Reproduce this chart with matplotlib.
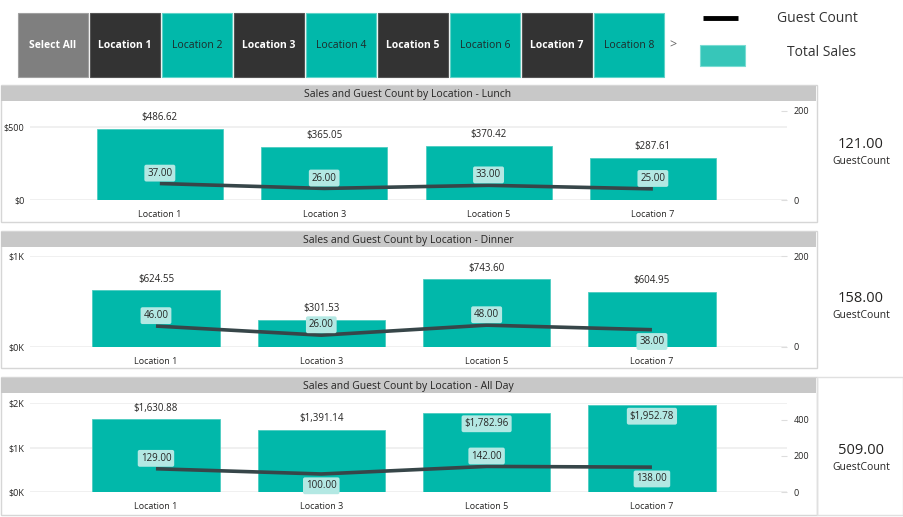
import matplotlib
matplotlib.use('Agg')
import matplotlib.pyplot as plt
from matplotlib.patches import Rectangle
import numpy as np

plt.rcParams['font.family'] = ['Open Sans', 'DejaVu Sans']

W, H = 904, 517

# ---------------- data ----------------
locations = ['Location 1', 'Location 3', 'Location 5', 'Location 7']
lunch_sales = [486.62, 365.05, 370.42, 287.61]
lunch_guests = [37, 26, 33, 25]
dinner_sales = [624.55, 301.53, 743.60, 604.95]
dinner_guests = [46, 26, 48, 38]
allday_sales = [1630.88, 1391.14, 1782.96, 1952.78]
allday_guests = [129, 100, 142, 138]
panel_titles = ['Sales and Guest Count by Location - Lunch',
                'Sales and Guest Count by Location - Dinner',
                'Sales and Guest Count by Location - All Day']
card_totals = [121.00, 158.00, 509.00]
card_label = 'GuestCount'
slicer_items = ['Select All', 'Location 1', 'Location 2', 'Location 3', 'Location 4',
                'Location 5', 'Location 6', 'Location 7', 'Location 8']
legend_items = ['Guest Count', 'Total Sales']

TEAL = '#01B8AA'
LINE = '#374649'
TXT = '#252423'
LBL_BG = '#B3E8E3'

fig = plt.figure(figsize=(W / 100, H / 100), dpi=100)
fig.patch.set_facecolor('white')


def frect(x0, y0, x1, y1):
    return [x0 / W, 1 - y1 / H, (x1 - x0) / W, (y1 - y0) / H]


bg = fig.add_axes([0, 0, 1, 1])
bg.set_xlim(0, W)
bg.set_ylim(H, 0)
bg.axis('off')

# ---------------- slicer ----------------
for i, name in enumerate(slicer_items):
    x0 = 18 + 72 * i
    if i == 0:
        fc, ec, tc, fw = '#7F7F7F', '#A0A0A0', 'white', 'bold'
    elif i % 2 == 1:
        fc, ec, tc, fw = '#333333', '#555555', 'white', 'bold'
    else:
        fc, ec, tc, fw = TEAL, '#5FD3C8', '#1E2A2A', 'normal'
    bg.add_patch(Rectangle((x0, 13), 70, 64, facecolor=fc, edgecolor=ec, lw=0.8))
    bg.text(x0 + 35, 46, name, ha='center', va='center', color=tc,
            fontsize=7.5, fontweight=fw)
bg.text(673, 45, '>', ha='center', va='center', color='#666666', fontsize=9)

# ---------------- legend ----------------
bg.plot([703, 738], [18, 18], color='black', lw=3.5, solid_capstyle='butt')
bg.text(777, 18, legend_items[0], ha='left', va='center', fontsize=10, color='#333333')
bg.add_patch(Rectangle((700, 45), 45, 21, facecolor='#37C6B9', edgecolor='#7ADCD3', lw=0.8))
bg.text(787, 53, legend_items[1], ha='left', va='center', fontsize=10, color='#333333')

# ---------------- panels ----------------
panels = [
    dict(top=85, bot=222, ytop=111, ybot=200, xlim=(-0.79, 3.816), bw=0.767,
         lmax=609.6, lticks=[0, 500], llabels=['$0', '$500'],
         rmax=200, rticks=[0, 200], card_y=145,
         sales_inside=[False, False, False, False],
         guest_below=[False, False, False, False]),
    dict(top=231, bot=368, ytop=256, ybot=347, xlim=(-0.762, 3.817), bw=0.77,
         lmax=1000, lticks=[0, 1000], llabels=['$0K', '$1K'],
         rmax=200, rticks=[0, 200], card_y=298,
         sales_inside=[False, False, False, False],
         guest_below=[False, False, False, True]),
    dict(top=377, bot=515, ytop=403, ybot=492, xlim=(-0.762, 3.817), bw=0.77,
         lmax=2000, lticks=[0, 1000, 2000], llabels=['$0K', '$1K', '$2K'],
         rmax=494, rticks=[0, 200, 400], card_y=450,
         sales_inside=[False, False, True, True],
         guest_below=[False, True, False, True]),
]
sales_sets = [lunch_sales, dinner_sales, allday_sales]
guest_sets = [lunch_guests, dinner_guests, allday_guests]

for k, cfg in enumerate(panels):
    # frame and title bar
    bg.add_patch(Rectangle((0.5, cfg['top']), 816.5, cfg['bot'] - cfg['top'],
                           facecolor='white', edgecolor='#D6D6D6', lw=1))
    bg.add_patch(Rectangle((1, cfg['top'] + 1), 815.5, 15, facecolor='#C8C8C8',
                           edgecolor='none'))
    bg.text(408, cfg['top'] + 9, panel_titles[k], ha='center', va='center',
            fontsize=7.5, color=TXT)
    # card
    bg.text(861, cfg['card_y'], f"{card_totals[k]:.2f}", ha='center', va='center',
            fontsize=10.5, color=TXT)
    bg.text(861, cfg['card_y'] + 17, card_label, ha='center', va='center',
            fontsize=7.5, color=TXT)

    sales = sales_sets[k]
    guests = guest_sets[k]
    x = np.arange(len(locations))

    ax = fig.add_axes(frect(30, cfg['ytop'], 787, cfg['ybot']))
    ax.set_facecolor('none')
    ax.bar(x, sales, width=cfg['bw'], color=TEAL, edgecolor='#4CCCC0', lw=0.6, zorder=2)
    ax.set_xlim(*cfg['xlim'])
    ax.set_ylim(0, cfg['lmax'])
    ax.set_yticks(cfg['lticks'])
    ax.set_yticklabels(cfg['llabels'])
    ax.grid(axis='y', color='#EEEEEE', lw=1.2)
    ax.set_axisbelow(True)
    for s in ax.spines.values():
        s.set_visible(False)
    ax.tick_params(axis='y', length=0, pad=4, labelsize=6.5, labelcolor=TXT)
    ax.set_xticks(x)
    ax.set_xticklabels(locations)
    ax.tick_params(axis='x', length=0, pad=7, labelsize=6.5, labelcolor=TXT)

    for xi, v, inside in zip(x, sales, cfg['sales_inside']):
        if inside:
            ax.annotate(f"${v:,.2f}", (xi, v), xytext=(0, -8), textcoords='offset points',
                        ha='center', va='center', fontsize=7, color=TXT, zorder=5,
                        bbox=dict(boxstyle='round,pad=0.3,rounding_size=0.2',
                                  fc=LBL_BG, ec='none'))
        else:
            ax.annotate(f"${v:,.2f}", (xi, v), xytext=(0, 8), textcoords='offset points',
                        ha='center', va='center', fontsize=7, color=TXT)

    ax2 = ax.twinx()
    ax2.plot(x, guests, color=LINE, lw=2.6, zorder=3, solid_capstyle='butt')
    ax2.set_ylim(0, cfg['rmax'])
    ax2.set_yticks(cfg['rticks'])
    ax2.set_yticklabels([str(t) for t in cfg['rticks']])
    for s in ax2.spines.values():
        s.set_visible(False)
    ax2.tick_params(axis='y', direction='in', length=4, width=0.8, color='#DDDDDD',
                    pad=5, labelsize=6.5, labelcolor=TXT)
    for xi, g, below in zip(x, guests, cfg['guest_below']):
        dy = -8.5 if below else 7.5
        ax2.annotate(f"{g:.2f}", (xi, g), xytext=(0, dy), textcoords='offset points',
                     ha='center', va='center', fontsize=7, color=TXT, zorder=6,
                     bbox=dict(boxstyle='round,pad=0.3,rounding_size=0.2',
                               fc=LBL_BG, ec='none'))

# card border for the last panel
bg.add_patch(Rectangle((817, 377), 86.5, 138, facecolor='none', edgecolor='#E0E0E0', lw=1))

fig.savefig('out.png', dpi=100, facecolor='white')
